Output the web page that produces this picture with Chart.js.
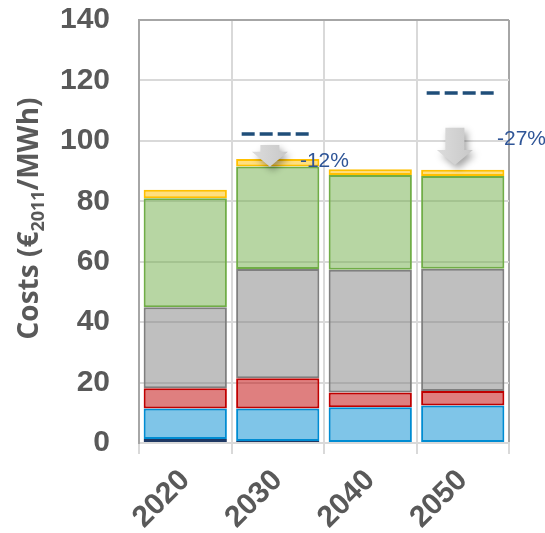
<!DOCTYPE html>
<html>
<head>
<meta charset="utf-8">
<script src="https://cdn.jsdelivr.net/npm/chart.js@4/dist/chart.umd.min.js"></script>
<style>
  html, body { margin: 0; padding: 0; background: #ffffff; }
  canvas { display: block; }
</style>
</head>
<body>
<canvas id="chart" width="545" height="533"></canvas>
<script>
// Cost components per year, stacked bottom to top (€2011/MWh)
const years      = ['2020', '2030', '2040', '2050'];
const navyPart   = [1.3, 0.7, 0, 0];
const bluePart   = [10.1, 10.7, 11.8, 12.4];
const redPart    = [6.7, 10.0, 4.9, 4.8];
const grayPart   = [26.8, 36.2, 40.6, 40.5];
const greenPart  = [36.1, 33.9, 31.4, 30.7];
const yellowPart = [2.8, 2.5, 1.9, 2.0];
const yTicks     = [0, 20, 40, 60, 80, 100, 120, 140];

// Reference cost levels (dashed) and the reduction arrows below them
const referenceLevel   = [null, 102.3, null, 115.8];
const arrowFrom        = [null, 98.6, null, 104.3];
const arrowTo          = [null, 91.4, null, 92.0];
const changeLabels     = [null, '-12%', null, '-27%'];
const changeLabelLevel = [null, 91.4, null, 98.7];

const AXIS_GREY = '#595959';
const GRID_LIGHT = '#d9d9d9';
const GRID_DARK = '#a6a6a6';

function series(label, data, rgb) {
  return {
    label,
    data,
    backgroundColor: `rgba(${rgb},0.5)`,
    borderColor: `rgb(${rgb})`,
    borderWidth: 2,
    borderSkipped: false,
    categoryPercentage: 0.9,
    barPercentage: 1.0
  };
}

// Reference dashes, arrows and percentage labels
const annotations = {
  id: 'annotations',
  afterDatasetsDraw(chart) {
    const { ctx, scales: { x, y } } = chart;
    const w = x.getPixelForValue(1) - x.getPixelForValue(0);
    ctx.save();
    years.forEach((_, i) => {
      const cx = x.getPixelForValue(i);
      if (referenceLevel[i] != null) {
        const ly = y.getPixelForValue(referenceLevel[i]);
        ctx.beginPath();
        ctx.setLineDash([13, 5]);
        ctx.lineWidth = 3.5;
        ctx.strokeStyle = '#1f4e79';
        ctx.moveTo(cx - 0.39 * w, ly);
        ctx.lineTo(cx + 0.37 * w, ly);
        ctx.stroke();
        ctx.setLineDash([]);
      }
      if (arrowFrom[i] != null) {
        const ax = cx - 0.085 * w;
        const top = y.getPixelForValue(arrowFrom[i]);
        const tip = y.getPixelForValue(arrowTo[i]);
        const head = 15, shaft = 9.5, wing = 18;
        ctx.save();
        ctx.shadowColor = 'rgba(0,0,0,0.35)';
        ctx.shadowBlur = 7;
        ctx.shadowOffsetX = 3;
        ctx.shadowOffsetY = 4;
        const g = ctx.createLinearGradient(ax - wing, 0, ax + wing, 0);
        g.addColorStop(0, '#dcdcdc');
        g.addColorStop(1, '#c8c8c8');
        ctx.fillStyle = g;
        ctx.beginPath();
        ctx.moveTo(ax - shaft, top);
        ctx.lineTo(ax + shaft, top);
        ctx.lineTo(ax + shaft, tip - head);
        ctx.lineTo(ax + wing, tip - head);
        ctx.lineTo(ax, tip);
        ctx.lineTo(ax - wing, tip - head);
        ctx.lineTo(ax - shaft, tip - head);
        ctx.closePath();
        ctx.fill();
        ctx.restore();
      }
      if (changeLabels[i] != null) {
        const dx = i === 1 ? 0.24 : 0.37;
        ctx.font = '21px "Liberation Sans", Arial, sans-serif';
        ctx.fillStyle = '#2f5597';
        ctx.textAlign = 'left';
        ctx.textBaseline = 'alphabetic';
        ctx.fillText(changeLabels[i], cx + dx * w, y.getPixelForValue(changeLabelLevel[i]));
      }
    });
    ctx.restore();
  },
  // Rotated axis title with subscript year
  afterDraw(chart) {
    const { ctx, chartArea } = chart;
    const big = 'bold 28px "Open Sans", sans-serif';
    const small = 'bold 18px "Open Sans", sans-serif';
    const parts = [['Costs (€', big, 0], ['2011', small, 6], ['/MWh)', big, 0]];
    ctx.save();
    let total = 0;
    parts.forEach(p => { ctx.font = p[1]; total += ctx.measureText(p[0]).width; });
    const cy = (chartArea.top + chartArea.bottom) / 2 - 13;
    ctx.translate(38, cy);
    ctx.rotate(-Math.PI / 2);
    ctx.fillStyle = AXIS_GREY;
    ctx.textBaseline = 'alphabetic';
    ctx.textAlign = 'left';
    let xPos = -total / 2;
    parts.forEach(p => {
      ctx.font = p[1];
      ctx.fillText(p[0], xPos, p[2]);
      xPos += ctx.measureText(p[0]).width;
    });
    ctx.restore();
  }
};

const tickFont = { family: '"Liberation Sans", Arial, sans-serif', size: 30, weight: 'bold' };

new Chart(document.getElementById('chart'), {
  type: 'bar',
  data: {
    labels: years,
    datasets: [
      series('Navy', navyPart, '31,56,100'),
      series('Blue', bluePart, '0,140,210'),
      series('Red', redPart, '192,0,0'),
      series('Grey', grayPart, '127,127,127'),
      series('Green', greenPart, '112,173,71'),
      series('Yellow', yellowPart, '255,192,0')
    ]
  },
  options: {
    responsive: false,
    animation: false,
    devicePixelRatio: 1,
    layout: { padding: { top: 20, right: 36, left: 0, bottom: 0 } },
    plugins: { legend: { display: false }, tooltip: { enabled: false } },
    scales: {
      x: {
        stacked: true,
        grid: {
          offset: true,
          lineWidth: 2,
          tickLength: 11,
          tickColor: GRID_LIGHT,
          color: c => (c.tick && c.index !== 0) ? GRID_LIGHT : GRID_DARK
        },
        border: { display: true, color: GRID_LIGHT, width: 2 },
        ticks: { minRotation: 45, maxRotation: 45, font: tickFont, color: AXIS_GREY, padding: 9 },
        afterFit: s => { s.height = 90; s.paddingLeft = 0; s.paddingRight = 0; }
      },
      y: {
        stacked: true,
        min: 0,
        max: 140,
        afterBuildTicks: s => { s.ticks = yTicks.map(v => ({ value: v })); },
        grid: {
          lineWidth: 2,
          drawTicks: false,
          color: c => (c.tick && c.tick.value === 140) ? GRID_DARK : GRID_LIGHT
        },
        border: { display: true, color: GRID_DARK, width: 2 },
        ticks: { font: tickFont, color: AXIS_GREY, padding: 29 },
        afterFit: s => { s.width = 139; s.paddingTop = 0; s.paddingBottom = 0; }
      }
    }
  },
  plugins: [annotations]
});
</script>
</body>
</html>
